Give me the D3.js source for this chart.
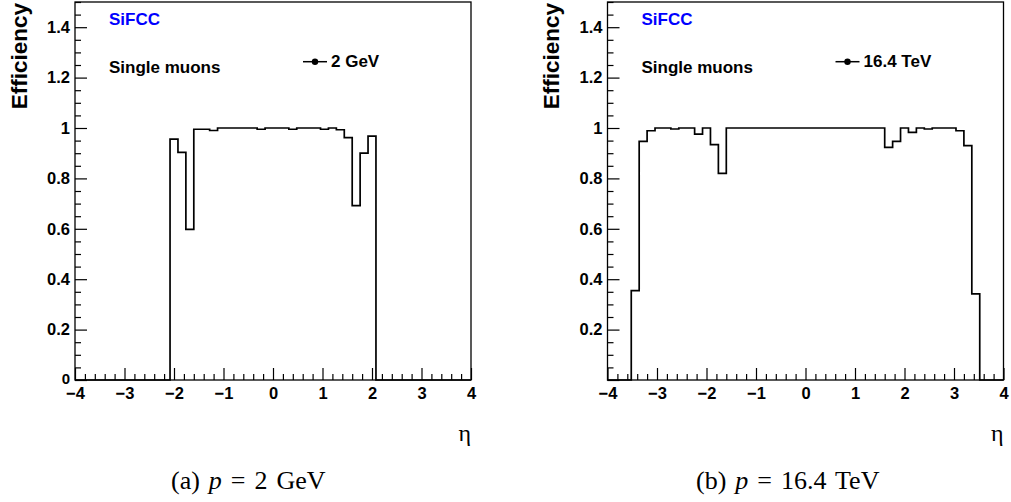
<!DOCTYPE html>
<html><head><meta charset="utf-8">
<script src="https://cdn.jsdelivr.net/npm/d3@7"></script>
<style>body{margin:0;background:#fff}</style>
</head><body>
<svg id="c" width="1011" height="502"></svg>
<script>
// 50 bins in eta from -4 to 4
const etaMin = -4, etaMax = 4, nBins = 50;
const eff2GeV = [0,0,0,0,0,0,0,0,0,0,0,0,
  0.956,0.903,0.598,0.995,0.995,0.990,1.0,1.0,1.0,1.0,1.0,0.995,1.0,1.0,1.0,0.995,1.0,1.0,1.0,0.995,1.0,0.993,0.962,0.692,0.900,0.968,
  0,0,0,0,0,0,0,0,0,0,0,0];
const eff16TeV = [0,0,0,
  0.355,0.947,0.989,1.0,1.0,0.996,1.0,1.0,0.976,1.0,0.934,0.820,
  1.0,1.0,1.0,1.0,1.0,1.0,1.0,1.0,1.0,1.0,1.0,1.0,1.0,1.0,1.0,1.0,1.0,1.0,1.0,1.0,
  0.923,0.947,1.0,0.983,1.0,0.996,1.0,1.0,1.0,0.989,0.930,0.342,
  0,0,0];
const xTicks = [-4,-3,-2,-1,0,1,2,3,4];
const yTicks = [0,0.2,0.4,0.6,0.8,1,1.2,1.4];
const legendLabels = ["2 GeV","16.4 TeV"];
const captions = [["(a) ","p"," = 2 GeV"],["(b) ","p"," = 16.4 TeV"]];

const svg = d3.select("#c");
const panels = [
  {x0:75, x1:471, vals:eff2GeV, leg:legendLabels[0], cap:captions[0], capX:171, showZero:true},
  {x0:607.5, x1:1003.5, vals:eff16TeV, leg:legendLabels[1], cap:captions[1], capX:696, showZero:false}
];
const yTop = 2, yBot = 380;
const sans = "'Liberation Sans', Arial, Helvetica, sans-serif";

panels.forEach(p => {
  const g = svg.append("g");
  const x = d3.scaleLinear().domain([etaMin, etaMax]).range([p.x0, p.x1]);
  const y = d3.scaleLinear().domain([0, 1.5]).range([yBot, yTop]);
  const w = (etaMax-etaMin)/nBins;
  // histogram step path
  let pts = [[etaMin, 0]];
  p.vals.forEach((v,i) => { const lo = etaMin + i*w, hi = etaMin + (i+1)*w; pts.push([lo, v]); pts.push([hi, v]); });
  pts.push([etaMax, 0]);
  g.append("path").attr("d", d3.line().x(d=>x(d[0])).y(d=>y(d[1]))(pts))
    .attr("fill","none").attr("stroke","#000").attr("stroke-width",1.7);
  // frame
  g.append("rect").attr("x",p.x0).attr("y",yTop).attr("width",p.x1-p.x0).attr("height",yBot-yTop)
    .attr("fill","none").attr("stroke","#000").attr("stroke-width",1.3);
  // x axis ticks
  const xAx = d3.axisBottom(x).tickValues(d3.range(-4,4.001,0.2)).tickSize(0).tickFormat("");
  const xa = g.append("g").attr("transform",`translate(0,${yBot})`).call(xAx);
  xa.select(".domain").remove();
  xa.selectAll(".tick line").remove();
  xa.selectAll(".tick").append("line").attr("y1",0)
    .attr("y2",d=> Math.abs(d-Math.round(d))<1e-6 ? -12 : -6).attr("stroke","#000").attr("stroke-width",1.2);
  const xl = g.append("g").attr("transform",`translate(0,${yBot})`)
    .call(d3.axisBottom(x).tickValues(xTicks).tickSize(0).tickPadding(7).tickFormat(d=> d<0 ? "\u2212"+Math.abs(d) : d));
  xl.select(".domain").remove();
  xl.selectAll("text").attr("font-family",sans).attr("font-weight","bold").attr("font-size",16.5).attr("fill","#000");
  // y axis ticks
  const ya = g.append("g").attr("transform",`translate(${p.x0},0)`)
    .call(d3.axisLeft(y).tickValues(d3.range(0,1.5001,0.05)).tickSize(0).tickFormat(""));
  ya.select(".domain").remove();
  ya.selectAll(".tick").append("line").attr("x1",0)
    .attr("x2",d=> Math.abs(d*5-Math.round(d*5))<1e-6 ? 12 : 6).attr("stroke","#000").attr("stroke-width",1.2);
  const yl = g.append("g").attr("transform",`translate(${p.x0},0)`)
    .call(d3.axisLeft(y).tickValues(p.showZero ? yTicks : yTicks.slice(1)).tickSize(0).tickPadding(5).tickFormat(d3.format("~g")));
  yl.select(".domain").remove();
  yl.selectAll("text").attr("font-family",sans).attr("font-weight","bold").attr("font-size",16.5).attr("fill","#000");
  yl.selectAll(".tick").filter(d => d === 0).select("text").attr("font-size",15).attr("dy","0.2em");
  // axis titles
  g.append("text").attr("transform",`translate(${p.x0-48.5},${yTop+1}) rotate(-90)`)
    .attr("text-anchor","end").attr("font-family",sans).attr("font-weight","bold").attr("font-size",22.5).text("Efficiency");
  g.append("text").attr("x",p.x1).attr("y",441).attr("text-anchor","end")
    .attr("font-family","'Liberation Serif', 'Times New Roman', serif").attr("font-size",24).text("\u03b7");
  // labels
  g.append("text").attr("x",p.x0+34).attr("y",25).attr("font-family",sans).attr("font-weight","bold")
    .attr("font-size",17).attr("fill","#0000ff").text("SiFCC");
  g.append("text").attr("x",p.x0+34).attr("y",73).attr("font-family",sans).attr("font-weight","bold")
    .attr("font-size",17).attr("fill","#000").text("Single muons");
  // legend
  const lx = p.x0 + 228, ly = 61.7;
  g.append("line").attr("x1",lx).attr("x2",lx+24).attr("y1",ly).attr("y2",ly).attr("stroke","#000").attr("stroke-width",1.5);
  g.append("circle").attr("cx",lx+12).attr("cy",ly).attr("r",3.2).attr("fill","#000");
  g.append("text").attr("x",lx+28).attr("y",67).attr("font-family",sans).attr("font-weight","bold")
    .attr("font-size",17).text(p.leg);
  // caption
  const ct = svg.append("text").attr("x",p.capX).attr("y",489).attr("word-spacing",2.5)
    .attr("font-family","'Liberation Serif', 'Times New Roman', serif").attr("font-size",26);
  ct.append("tspan").text(p.cap[0]);
  ct.append("tspan").attr("font-style","italic").text(p.cap[1]);
  ct.append("tspan").text(p.cap[2]);
});
</script>
</body></html>
